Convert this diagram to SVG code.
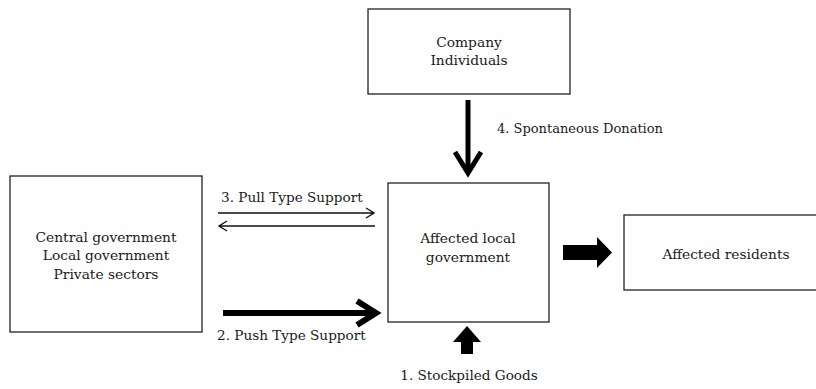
<svg xmlns="http://www.w3.org/2000/svg" width="816" height="389" viewBox="0 0 816 389">
<style>
.box{fill:#fff;stroke:#222;stroke-width:1.3}
.t{font-family:"DejaVu Serif","Liberation Serif",serif;font-size:13.8px;fill:#1a1a1a;text-anchor:middle}
.l{font-family:"DejaVu Serif","Liberation Serif",serif;font-size:13.6px;fill:#1a1a1a}
.thin{fill:none;stroke:#111;stroke-width:1.4}
.thick{fill:none;stroke:#000;stroke-linejoin:miter}
</style>
<rect width="816" height="389" fill="#fff"/>
<g id="company">
<rect class="box" x="368" y="9" width="202" height="85"/>
<text class="t" x="469" y="47">Company</text>
<text class="t" x="469" y="65">Individuals</text>
</g>
<g id="central">
<rect class="box" x="10" y="176" width="192" height="156"/>
<text class="t" x="106" y="242">Central government</text>
<text class="t" x="106" y="260">Local government</text>
<text class="t" x="106" y="279">Private sectors</text>
</g>
<g id="affected-local">
<rect class="box" x="388" y="183" width="161" height="139"/>
<text class="t" x="468" y="243">Affected local</text>
<text class="t" x="468" y="262">government</text>
</g>
<g id="residents">
<rect class="box" x="624" y="215" width="204" height="75"/>
<text class="t" x="726" y="259">Affected residents</text>
</g>
<g id="connectors">
<path class="thick" stroke-width="5" d="M468 100V173"/>
<path class="thick" stroke-width="5" d="M455 152L468 173L481 152"/>
<text class="l" x="497" y="133" style="font-size:13px">4. Spontaneous Donation</text>
<path class="thin" d="M218 213H374M366 208L374 213L366 218"/>
<path class="thin" d="M375 226H219M227 221L219 226L227 231"/>
<text class="l" x="221" y="202">3. Pull Type Support</text>
<path class="thick" stroke-width="6" d="M223 313H376"/>
<path class="thick" stroke-width="6" d="M357 301L376 313L357 325"/>
<text class="l" x="217" y="340">2. Push Type Support</text>
<polygon fill="#000" points="563,245 597,245 597,237 612,252.5 597,268 597,260 563,260"/>
<polygon fill="#000" points="467,326 481,342 473,342 473,354 461,354 461,342 453,342"/>
<text class="l" x="469" y="380" text-anchor="middle">1. Stockpiled Goods</text>
</g>
</svg>
